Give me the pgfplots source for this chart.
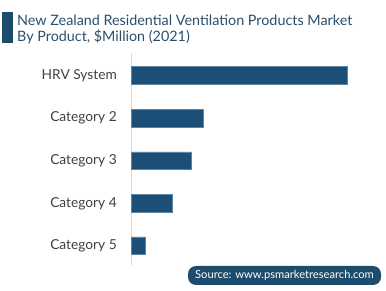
\documentclass[border=0pt]{standalone}
\usepackage{pgfplots}
\pgfplotsset{compat=1.18}
\usepackage{fontspec}
\setmainfont{Lato}
\definecolor{barblue}{RGB}{28,79,120}
\definecolor{titleblue}{RGB}{44,78,106}
\definecolor{boxblue}{RGB}{30,76,108}
\definecolor{labelgray}{RGB}{64,64,64}
\begin{document}
\begin{tikzpicture}
\useasboundingbox (0,0) rectangle (386bp,291bp);
% title
\fill[boxblue] (2bp,248bp) rectangle (13bp,279bp);
\node[anchor=base west, inner sep=0, text=titleblue, font=\fontsize{14.4}{16}\selectfont] at (17bp,265bp) {New Zealand Residential Ventilation Products Market};
\node[anchor=base west, inner sep=0, text=titleblue, font=\fontsize{14.4}{16}\selectfont] at (17bp,249bp) {By Product, \$Million (2021)};
\begin{axis}[
  at={(131bp,26bp)}, anchor=south west,
  width=250bp, height=212bp, scale only axis,
  xmin=0, xmax=250,
  ymin=-0.53, ymax=4.45, y dir=reverse,
  axis x line=none,
  axis y line=left,
  y axis line style={-, draw=black!15, line width=0.8pt},
  ytick={0,1,2,3,4},
  yticklabels={HRV System, Category 2, Category 3, Category 4, Category 5},
  major tick length=0,
  yticklabel style={font=\fontsize{13.8}{15}\selectfont, text=labelgray, inner sep=0, xshift=-14bp},
  xbar, bar width=17.7bp,
]
\addplot[fill=barblue, draw=barblue!70!white, line width=0.5pt] coordinates {(216,0) (72,1) (60,2) (41,3) (14,4)};
\end{axis}
% source box
\fill[boxblue, rounded corners=8bp] (188bp,6bp) rectangle (381bp,25bp);
\node[text=white, inner sep=0, font=\fontsize{11.2}{12}\selectfont] at (284.5bp,15.5bp) {Source: www.psmarketresearch.com};
\end{tikzpicture}
\end{document}
